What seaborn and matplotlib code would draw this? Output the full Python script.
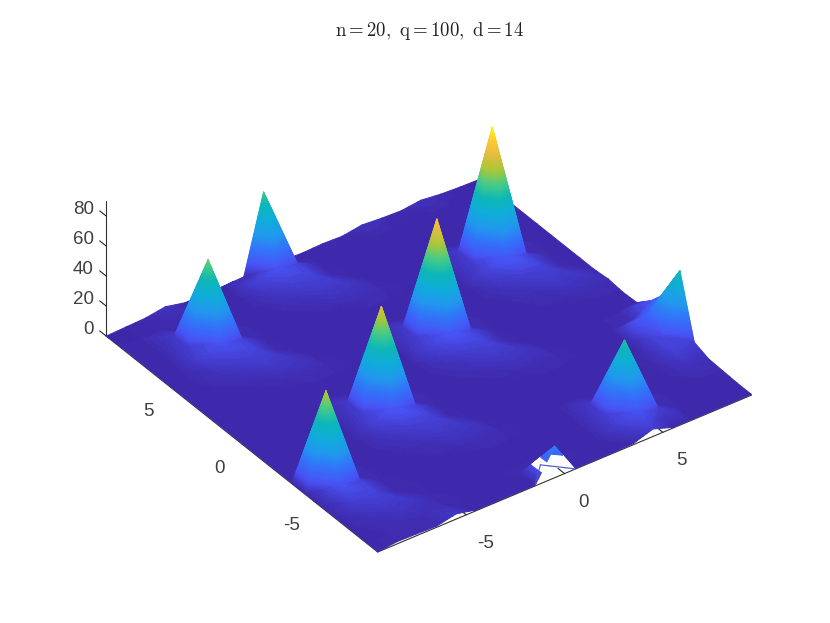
"""Spiky surface, n=20, q=100, d=14 (MATLAB style view, parula colours)."""
import matplotlib
matplotlib.use("Agg")
import matplotlib.pyplot as plt
import numpy as np
import seaborn as sns
from matplotlib.text import Text
from matplotlib.transforms import Affine2D
from mpl_toolkits.mplot3d.art3d import Poly3DCollection

title_text = r"$\mathrm{n{=}20,\ q{=}100,\ d{=}14}$"
x_vals = [v - 9.5 for v in range(20)]
y_vals = [v - 9.5 for v in range(20)]
x_ticks = [-5, 0, 5]
y_ticks = [-5, 0, 5]
z_ticks = [0, 20, 40, 60, 80]

# one row per y value, front edge first
z_rows = [
    [.2, 1.5, 1.2, .8, 3.5, .5, .5, .5, .5, 21, .5, .5, .5, .8, 5, .5, .5, .5, .5, .5],
    [.5, .8, 1.2, 2, 1.5, .8, .5, .5, 1, 1, 1, .5, .5, 5, 9, 5, .8, .5, .5, .5],
    [.5, 2, 4, 3.5, .8, .5, .5, .5, .5, .5, .5, .5, .5, 5, 49, 2, .8, .5, .5, 1],
    [.5, 5, 6, 1.2, .8, .5, .5, .5, .5, .5, .5, .5, .5, 4, 1.5, .8, .5, .8, 2.5, 1.5],
    [.5, 9, 6, 1, .5, .5, .8, 1.2, 2, 1.5, .5, .5, .5, .5, .5, .5, .5, 1, 6, 5],
    [.5, 64, 2, .8, .5, 1, 2, 4, 3.5, .5, .5, .5, .5, .5, .5, .5, .5, .8, 7, 45],
    [.5, 1.5, .8, .5, .5, 2.5, 5, 6, 1, .5, .5, .5, .5, .5, .5, .5, .5, .5, 13, 22],
    [.5, .5, .5, .5, .8, 6, 10, 6, .8, .5, .5, .5, 1.2, 2, 1.5, .5, .5, .5, 2, 10],
    [.5, .5, .5, .5, .5, 5, 70, 2, .8, .5, .8, 2, 4, 3.5, .5, .5, .5, .5, .5, 1],
    [.5, .5, .5, .5, .5, 4, 1.5, .8, .5, .5, 2.5, 5, 6, 1, .5, .5, .5, .5, .5, .5],
    [.5, .5, .5, .5, .5, .5, .5, .5, .5, .8, 6, 10, 6, .8, .5, .5, .8, 1.2, 2, 1.5],
    [.5, .5, .5, .5, .5, .5, .5, .5, .5, .5, 5, 78, 2, .8, .5, .8, 2, 4, 3.5, .5],
    [.5, .5, .5, .5, 1.2, 2, 1.5, .5, .5, .5, 4, 1.5, .8, .5, .5, 2.5, 5, 6, 1, .5],
    [.5, .5, .8, 2, 4, 3.5, .5, .5, .5, .5, .5, .5, .5, .5, .8, 6, 11, 6, .8, .5],
    [.5, .8, 2.5, 5, 6, 1, .5, .5, .5, .5, .5, .5, .5, .5, .8, 5, 89, 2, .8, .5],
    [.5, .8, 6, 9, 6, .8, .5, .5, .5, 1.2, 2, 1.5, .5, .5, .5, 4, 1.5, .8, .5, .5],
    [.5, .8, 5, 57, 2, .8, .5, .8, 2, 4, 3.5, .5, .5, .5, .5, .5, .5, .5, .5, .5],
    [.5, .5, 4, 1.5, .8, .5, .5, 2.5, 5, 6, 1, .5, .5, .5, .5, .5, .5, .5, .5, .5],
    [.5, .5, .8, .8, .5, .5, .8, 6, 9, 6, .8, .5, .5, .5, .5, .5, .5, .5, .5, .5],
    [0, .5, 1, 3, .2, .5, .5, 1, 52, 1, .5, 1, .5, 2.5, 1.5, 1, 2.5, 1, .3, 0],
]

parula = [
    (.2422, .1504, .6603), (.2810, .3228, .9579), (.20, .45, .98),
    (.13, .60, .93), (.06, .68, .85), (.05, .72, .72), (.28, .80, .53),
    (.67, .78, .22), (.89, .74, .25), (1.0, .79, .20), (.976, .983, .054),
]
Z_MAX = 90


def _clip(poly, level, keep_above):
    """Cut a polygon (rows of x, y, z) at one z level."""
    out = []
    for p, q in zip(poly, poly[1:] + poly[:1]):
        p_in = p[2] >= level if keep_above else p[2] <= level
        q_in = q[2] >= level if keep_above else q[2] <= level
        if p_in:
            out.append(p)
        if p_in != q_in:
            t = (level - p[2]) / (q[2] - p[2])
            out.append(tuple(a + t * (b - a) for a, b in zip(p, q)))
    return out


def _bands(tri, step=0.75):
    """Slice a triangle into flat coloured bands, matplotlib has no gouraud in 3d."""
    zs = [p[2] for p in tri]
    lo = int(np.floor(min(zs) / step))
    hi = int(np.ceil(max(zs) / step))
    if hi - lo <= 1:
        return [tri]
    bands = []
    for k in range(lo, hi):
        band = _clip(_clip(tri, k * step, True), (k + 1) * step, False)
        if len(band) >= 3:
            bands.append(band)
    return bands


def _nudge(axis, dx, dy):
    """Shift tick labels by some pixels, the 3d axis resets their transform on each draw."""
    offset = Affine2D().translate(dx, dy)
    for tick in axis.get_major_ticks():
        label = tick.label1
        label.set_transform = lambda t, lab=label: Text.set_transform(lab, t + offset)


sns.set_theme(style="white")
plt.rcParams["font.family"] = ["Liberation Sans", "DejaVu Sans"]
plt.rcParams["mathtext.fontset"] = "cm"
plt.rcParams["axes.unicode_minus"] = False

cmap = sns.blend_palette(parula, n_colors=256, as_cmap=True)

polys, colors = [], []
for j in range(len(y_vals) - 1):
    for i in range(len(x_vals) - 1):
        a = (x_vals[i], y_vals[j], z_rows[j][i])
        b = (x_vals[i + 1], y_vals[j], z_rows[j][i + 1])
        c = (x_vals[i], y_vals[j + 1], z_rows[j + 1][i])
        d = (x_vals[i + 1], y_vals[j + 1], z_rows[j + 1][i + 1])
        for tri in ([a, b, c], [b, d, c]):
            for band in _bands(tri):
                mean_z = np.mean([p[2] for p in band])
                cx = np.mean([p[0] for p in band])
                cy = np.mean([p[1] for p in band])
                # the little notch on the front edge shows white underneath
                if cy - y_vals[0] < 1 - abs(cx - x_vals[9]) and mean_z < 13:
                    colors.append((1, 1, 1, 1))
                else:
                    colors.append(cmap(mean_z / Z_MAX))
                polys.append(band)

fig = plt.figure(figsize=(8.3, 6.23), dpi=100)
ax = fig.add_axes([0.0065, 0.008, 1, 1], projection="3d")
ax.set_proj_type("ortho")
ax.computed_zorder = False
ax.view_init(elev=35.3, azim=-126)
ax.set_box_aspect((460.6, 460.6, 165), zoom=1.05)

surf = Poly3DCollection(polys, facecolors=colors, edgecolors=colors, linewidths=0.7, zorder=1)
surf.set_clip_on(False)
ax.add_collection3d(surf)

# wire lines left visible inside the notch
for i_end, j_end in ((8, 0), (10, 0)):
    ax.plot([x_vals[9], x_vals[i_end]], [y_vals[1], y_vals[j_end]],
            [z_rows[1][9], z_rows[j_end][i_end]], color="#4a55d8", linewidth=0.8, zorder=2)

ax.set_xlim(x_vals[0], x_vals[-1])
ax.set_ylim(y_vals[0], y_vals[-1])
ax.set_zlim(0, Z_MAX)
ax.set_xticks(x_ticks)
ax.set_yticks(y_ticks)
ax.set_zticks(z_ticks)
ax.grid(False)
for axis in (ax.xaxis, ax.yaxis, ax.zaxis):
    axis.set_pane_color((1, 1, 1, 0))
    axis.line.set_color("#333333")
    axis.line.set_linewidth(0.8)
    axis._axinfo["tick"]["inward_factor"] = 0
    axis._axinfo["tick"]["outward_factor"] = 0.3
    axis._axinfo["tick"]["linewidth"] = {True: 0.8, False: 0.5}
    axis._axinfo["tick"]["color"] = "#555555"
# z ticks run along y in the reference
ax.zaxis._get_tickdir = lambda position: 1
ax.tick_params(labelsize=13.5, labelcolor="#404040")
ax.xaxis.set_tick_params(pad=4)
ax.yaxis.set_tick_params(pad=4)
ax.zaxis.set_tick_params(pad=3)
for tick in ax.zaxis.get_major_ticks():
    tick.label1.set_va("bottom")
    tick.label1.set_ha("right")
_nudge(ax.xaxis, 5, -2)
_nudge(ax.yaxis, -3, -1)
_nudge(ax.zaxis, 18, -5)

fig.text(0.518, 0.951, title_text, ha="center", va="center", fontsize=13.5, color="#222222")

fig.savefig("out.png", dpi=100)
